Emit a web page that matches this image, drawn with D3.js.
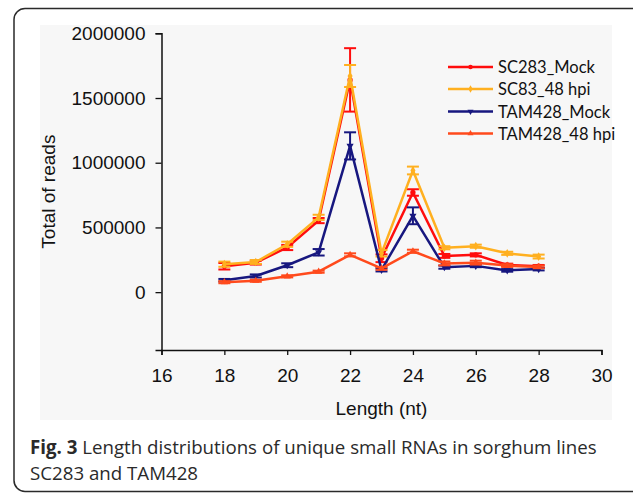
<!DOCTYPE html>
<html>
<head>
<meta charset="utf-8">
<script src="https://cdn.jsdelivr.net/npm/d3@7"></script>
<style>
  body { margin: 0; background: #fff; }
  svg { display: block; }
</style>
</head>
<body>
<svg width="633" height="494"></svg>
<script>
// data
var lengths = [18, 19, 20, 21, 22, 23, 24, 25, 26, 27, 28];
var seriesNames = ["SC283_Mock", "SC83_48 hpi", "TAM428_Mock", "TAM428_48 hpi"];
var sc283Mock = [200000, 228000, 345000, 553000, 1640000, 262000, 770000, 280000, 288000, 210000, 200000];
var sc283Err  = [25000, 15000, 20000, 20000, 245000, 30000, 25000, 15000, 12000, 10000, 10000];
var sc83Hpi   = [216000, 233000, 370000, 578000, 1670000, 300000, 940000, 343000, 355000, 300000, 275000];
var sc83Err   = [20000, 15000, 20000, 20000, 85000, 25000, 30000, 12000, 12000, 12000, 15000];
var tamMock   = [92000, 125000, 208000, 308000, 1130000, 172000, 590000, 193000, 203000, 168000, 178000];
var tamMockErr = [10000, 12000, 15000, 25000, 105000, 12000, 65000, 12000, 10000, 10000, 10000];
var tamHpi    = [77000, 88000, 122000, 158000, 288000, 183000, 316000, 222000, 228000, 205000, 195000];
var tamHpiErr = [8000, 8000, 8000, 8000, 12000, 10000, 12000, 15000, 15000, 10000, 10000];
var xTicks = [16, 18, 20, 22, 24, 26, 28, 30];
var yTicks = [0, 500000, 1000000, 1500000, 2000000];

var colors = ["#ff0d0d", "#ffb020", "#17177f", "#ff4a1c"];
var symbols = [d3.symbolCircle, d3.symbolDiamond, d3.symbolTriangle, d3.symbolTriangle];
var rotations = [0, 0, 180, 0];

var series = [
  {name: seriesNames[0], values: sc283Mock, err: sc283Err},
  {name: seriesNames[1], values: sc83Hpi, err: sc83Err},
  {name: seriesNames[2], values: tamMock, err: tamMockErr},
  {name: seriesNames[3], values: tamHpi, err: tamHpiErr}
];

var svg = d3.select("svg");

// card frame and plot backdrop
svg.append("rect")
    .attr("x", 14).attr("y", 8.5)
    .attr("width", 640).attr("height", 483)
    .attr("rx", 11).attr("ry", 11)
    .attr("fill", "#fff")
    .attr("stroke", "#2a2a2a")
    .attr("stroke-width", 1.5);

svg.append("rect")
    .attr("x", 40).attr("y", 25)
    .attr("width", 572).attr("height", 395)
    .attr("fill", "#f7f7f7");

var x = d3.scaleLinear().domain([16, 30]).range([161.5, 601.5]);
var y = d3.scaleLinear().domain([-447000, 2000000]).range([350, 33.3]);

var xAxis = svg.append("g")
    .attr("transform", "translate(0," + y(-447000) + ")")
    .call(d3.axisBottom(x).tickValues(xTicks).tickSize(5).tickPadding(14).tickFormat(d3.format("d")));

var yAxis = svg.append("g")
    .attr("transform", "translate(" + x(16) + ",0)")
    .call(d3.axisLeft(y).tickValues(yTicks).tickSize(6).tickPadding(10).tickFormat(d3.format("d")));

[xAxis, yAxis].forEach(function(a) {
  a.select(".domain").attr("stroke", "#111").attr("stroke-width", 1.5);
  a.selectAll(".tick line").attr("stroke", "#111").attr("stroke-width", 1.3);
  a.selectAll(".tick text")
      .attr("fill", "#111")
      .style("font-family", "'Liberation Sans', Arial, sans-serif")
      .style("font-size", "19px");
});

// axis titles
svg.append("text")
    .attr("x", (x(16) + x(30)) / 2)
    .attr("y", 415)
    .attr("text-anchor", "middle")
    .style("font-family", "'Liberation Sans', Arial, sans-serif")
    .style("font-size", "19px")
    .attr("fill", "#111")
    .text("Length (nt)");

svg.append("text")
    .attr("transform", "translate(55," + ((y(2000000) + y(-447000)) / 2) + ") rotate(-90)")
    .attr("text-anchor", "middle")
    .style("font-family", "'Liberation Sans', Arial, sans-serif")
    .style("font-size", "19px")
    .attr("fill", "#111")
    .text("Total of reads");

var line = d3.line()
    .x(function(d, i) { return x(lengths[i]); })
    .y(function(d) { return y(d); });

series.forEach(function(s, k) {
  var g = svg.append("g");

  g.append("path")
      .attr("d", line(s.values))
      .attr("fill", "none")
      .attr("stroke", colors[k])
      .attr("stroke-width", 2.5)
      .attr("stroke-linejoin", "round");

  var eb = g.selectAll(".eb").data(s.values).enter().append("g");
  eb.append("line")
      .attr("x1", function(d, i) { return x(lengths[i]); })
      .attr("x2", function(d, i) { return x(lengths[i]); })
      .attr("y1", function(d, i) { return y(d + s.err[i]); })
      .attr("y2", function(d, i) { return y(d - s.err[i]); })
      .attr("stroke", colors[k]).attr("stroke-width", 2);
  [1, -1].forEach(function(sign) {
    eb.append("line")
        .attr("x1", function(d, i) { return x(lengths[i]) - 6; })
        .attr("x2", function(d, i) { return x(lengths[i]) + 6; })
        .attr("y1", function(d, i) { return y(d + sign * s.err[i]); })
        .attr("y2", function(d, i) { return y(d + sign * s.err[i]); })
        .attr("stroke", colors[k]).attr("stroke-width", 2);
  });

  g.selectAll(".pt").data(s.values).enter().append("path")
      .attr("d", d3.symbol().type(symbols[k]).size(22))
      .attr("transform", function(d, i) {
        return "translate(" + x(lengths[i]) + "," + y(d) + ") rotate(" + rotations[k] + ")";
      })
      .attr("fill", colors[k]);
});

// legend
var legend = svg.append("g");
var legendY = [67, 89, 111.5, 133.5];
series.forEach(function(s, k) {
  var row = legend.append("g").attr("transform", "translate(0," + legendY[k] + ")");
  row.append("line")
      .attr("x1", 448).attr("x2", 493)
      .attr("stroke", colors[k]).attr("stroke-width", 2.5);
  row.append("path")
      .attr("d", d3.symbol().type(symbols[k]).size(16))
      .attr("transform", "translate(470.5,0) rotate(" + rotations[k] + ")")
      .attr("fill", colors[k]);
  row.append("text")
      .attr("x", 498).attr("y", 6)
      .style("font-family", "Lato, 'Open Sans', sans-serif")
      .style("font-size", "16.5px")
      .attr("fill", "#111")
      .text(s.name);
});

// caption
var cap = svg.append("text")
    .attr("x", 30).attr("y", 454)
    .style("font-family", "'Open Sans', 'Noto Sans', sans-serif")
    .style("font-size", "18.7px")
    .attr("fill", "#2a2a2a");
cap.append("tspan").style("font-weight", "bold").text("Fig. 3");
cap.append("tspan").text(" Length distributions of unique small RNAs in sorghum lines");

svg.append("text")
    .attr("x", 30).attr("y", 480)
    .style("font-family", "'Open Sans', 'Noto Sans', sans-serif")
    .style("font-size", "18.7px")
    .attr("fill", "#2a2a2a")
    .text("SC283 and TAM428");
</script>
</body>
</html>
